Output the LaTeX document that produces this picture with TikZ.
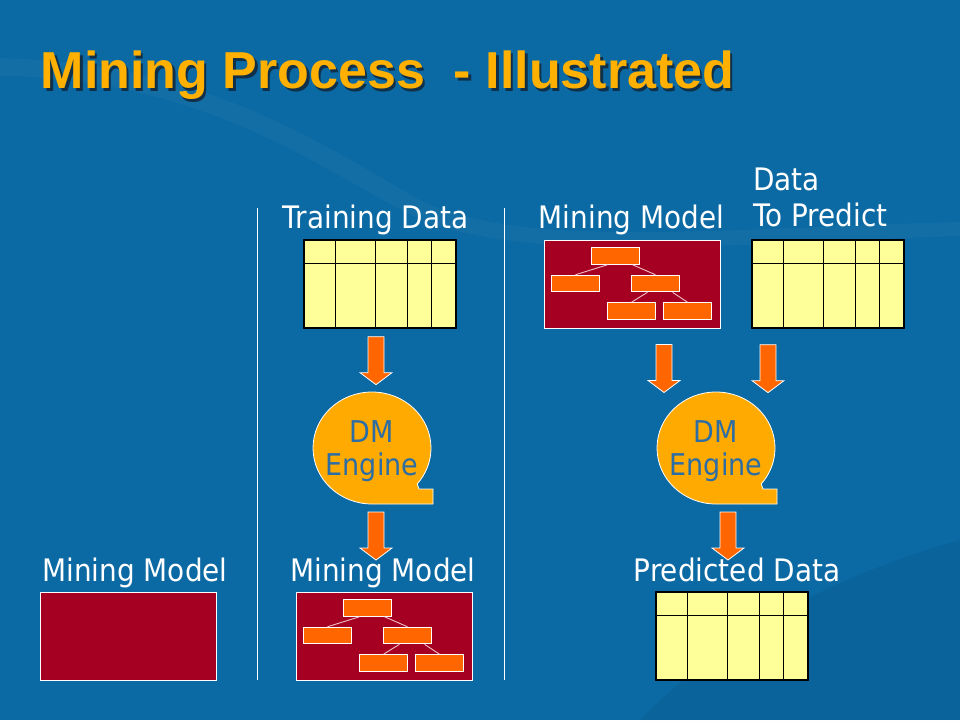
\documentclass[tikz,border=0pt]{standalone}
\usepackage{fontspec}
\setmainfont{DejaVu Sans}[FakeStretch=0.9]
\newfontfamily\titlefont{Liberation Sans}
\usetikzlibrary{calc,positioning}

\definecolor{slideblue}{HTML}{0B69A3}
\definecolor{titleyellow}{HTML}{FFB000}
\definecolor{titleshade}{HTML}{10304A}
\definecolor{tableyellow}{HTML}{FFFF99}
\definecolor{modelred}{HTML}{A50021}
\definecolor{leaforange}{HTML}{FF6600}
\definecolor{branchpink}{HTML}{F2BFC8}
\definecolor{engineyellow}{HTML}{FFAA00}
\definecolor{enginetxt}{HTML}{2C6DA5}

\newcommand{\shadedtitle}[1]{\makebox[0pt][l]{\hspace{2.5pt}\raisebox{-2.5pt}{\color{titleshade}#1}}#1}

\tikzset{
every node/.style={inner sep=0pt},
titletext/.style={text=titleyellow, font=\titlefont\bfseries\fontsize{52}{56}\selectfont},
slidelabel/.style={text=white, font=\fontsize{31}{36}\selectfont},
datatable/.style={draw=black, line width=1.3pt, fill=tableyellow, minimum width=152pt, minimum height=88pt},
gridline/.style={draw=black, line width=1.3pt},
modelbox/.style={draw=white, line width=1pt, fill=modelred, minimum width=176pt, minimum height=88pt},
leafbox/.style={draw=white, line width=1pt, fill=leaforange, minimum width=48pt, minimum height=16.5pt},
branch/.style={draw=branchpink, line width=0.9pt},
divider/.style={draw=white, line width=0.8pt},
enginetext/.style={text=enginetxt, align=center, font=\fontsize{30}{33}\selectfont},
flowarrow/.pic={\filldraw[fill=leaforange, draw=white, line width=0.8pt]
  (-8,0) -- (8,0) -- (8,36) -- (16,36) -- (0,48) -- (-16,36) -- (-8,36) -- cycle;},
engine/.pic={\filldraw[fill=engineyellow, draw=white, line width=0.8pt]
  (0,56) arc[start angle=90, end angle=400, x radius=59, y radius=56]
  -- (47,41) -- (61,41) -- (61,56) -- cycle;},
}

\begin{document}
\begin{tikzpicture}[x=1pt, y=-1pt]
  % slide background
  \fill[slideblue] (0,0) rectangle (960,720);
  \fill[white, opacity=0.035] (0,58) .. controls (210,62) and (330,150) .. (420,200)
    .. controls (520,250) and (720,228) .. (960,222) -- (960,236)
    .. controls (720,244) and (510,266) .. (405,212)
    .. controls (320,168) and (200,78) .. (0,76) -- cycle;
  \fill[black, opacity=0.05] (640,720) .. controls (720,640) and (820,580) .. (960,540) -- (960,720) -- cycle;

  % title
  \node[titletext, anchor=base west] (title) at (40.5,88.5) {\shadedtitle{Mining Process \ - Illustrated}};

  % dividers
  \draw[divider] (257,208) -- (257,680);
  \draw[divider] (504,208) -- (504,680);

  % tables
  \node[datatable] (train) at (380,284) {};
  \node[datatable] (topredict) at (828,284) {};
  \node[datatable] (predicted) at (732,636) {};
  \foreach \t in {train,topredict,predicted}{
    \draw[gridline] ($(\t.north west)+(0,24)$) -- ($(\t.north east)+(0,24)$);
    \foreach \c in {32,72,104,128}
      \draw[gridline] ($(\t.north west)+(\c,0)$) -- ($(\t.south west)+(\c,0)$);
  }

  % mining models
  \node[modelbox] (emptymodel) at (128,636) {};
  \node[modelbox] (trainedmodel) at (384,636) {};
  \node[modelbox] (topmodel) at (632,284) {};
  \foreach \m in {trainedmodel,topmodel}{
    \node[leafbox] (\m-root) at ($(\m.north west)+(72,16.5)$) {};
    \node[leafbox] (\m-left) at ($(\m.north west)+(32,44)$) {};
    \node[leafbox] (\m-mid) at ($(\m.north west)+(112,44)$) {};
    \node[leafbox] (\m-bl) at ($(\m.north west)+(88,71.5)$) {};
    \node[leafbox] (\m-br) at ($(\m.north west)+(144,71.5)$) {};
    \draw[branch] ([xshift=-8pt]\m-root.south) -- (\m-left.north);
    \draw[branch] ([xshift=17pt]\m-root.south) -- (\m-mid.north);
    \draw[branch] ([xshift=-8pt]\m-mid.south) -- (\m-bl.north);
    \draw[branch] ([xshift=17pt]\m-mid.south) -- (\m-br.north);
  }

  % engines
  \pic at (372,448) {engine};
  \node[enginetext] (engine1) at (372,451) {DM\\Engine};
  \pic at (716,448) {engine};
  \node[enginetext] (engine2) at (716,451) {DM\\Engine};

  % arrows
  \pic at ($(train.south)+(-4,8)$) {flowarrow};
  \pic at ($(engine1)+(4,61)$) {flowarrow};
  \pic at ($(topmodel.south)+(32,16)$) {flowarrow};
  \pic at ($(topredict.south)+(-60,16)$) {flowarrow};
  \pic at ($(engine2)+(12,61)$) {flowarrow};

  % labels
  \node[slidelabel, anchor=base] (trainlabel) at (375.5,228) {Training Data};
  \node[slidelabel, anchor=base] (topmodellabel) at (631.5,228) {Mining Model};
  \node[slidelabel, anchor=base west] (datalabel) at (753,190) {Data};
  \node[slidelabel, anchor=base west] (predictlabel) at (753,226) {To Predict};
  \node[slidelabel, anchor=base] (emptylabel) at (135,581) {Mining Model};
  \node[slidelabel, anchor=base] (trainedlabel) at (383,581) {Mining Model};
  \node[slidelabel, anchor=base] (resultlabel) at (737,581) {Predicted Data};
\end{tikzpicture}
\end{document}
